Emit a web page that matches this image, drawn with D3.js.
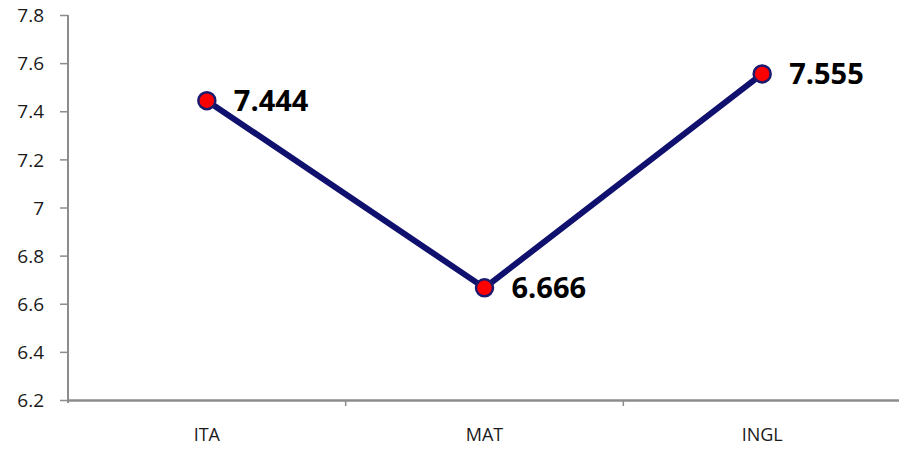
<!DOCTYPE html>
<html>
<head>
<meta charset="utf-8">
<script src="https://cdn.jsdelivr.net/npm/d3@7"></script>
<style>
  body { margin: 0; background: #fff; }
  svg { display: block; }
  .tick text { font-family: "Open Sans", "Noto Sans", sans-serif; fill: #1a1a1a; }
</style>
</head>
<body>
<script>
// data
const categories = ["ITA", "MAT", "INGL"];
const values = [7.444, 6.666, 7.555];
const yTicks = [6.2, 6.4, 6.6, 6.8, 7, 7.2, 7.4, 7.6, 7.8];

const width = 899, height = 453;
const margin = { top: 15, right: -2, bottom: 53, left: 68 };

const svg = d3.select('body').append('svg')
    .attr('width', width)
    .attr('height', height);

const x = d3.scaleBand()
    .domain(categories)
    .range([margin.left, width - margin.right]);

const y = d3.scaleLinear()
    .domain([6.2, 7.8])
    .range([height - margin.bottom, margin.top]);

// y axis
const yAxis = svg.append('g')
    .attr('transform', `translate(${margin.left},0)`)
    .call(d3.axisLeft(y).tickValues(yTicks).tickSize(8).tickSizeOuter(0)
        .tickFormat(d => String(d)));
yAxis.select('.domain').attr('stroke', '#8c8c8c').attr('stroke-width', 2)
    .attr('d', `M0,${y(7.8)}V${y(6.2) + 3}`);
yAxis.selectAll('.tick line').attr('stroke', '#8c8c8c').attr('stroke-width', 1.5);
yAxis.selectAll('.tick text').attr('font-size', 19).attr('x', -24).attr('dy', '0.35em');

// x axis
const xAxis = svg.append('g')
    .attr('transform', `translate(0,${y(6.2)})`)
    .call(d3.axisBottom(x).tickSize(0).tickSizeOuter(0));
xAxis.select('.domain').attr('stroke', '#8c8c8c').attr('stroke-width', 2.5);
xAxis.selectAll('.tick text').attr('font-size', 18).attr('y', 28);
xAxis.selectAll('.sep')
    .data(categories)
    .enter().append('line')
    .attr('class', 'sep')
    .attr('x1', d => x(d) + x.bandwidth())
    .attr('x2', d => x(d) + x.bandwidth())
    .attr('y1', 0).attr('y2', 6)
    .attr('stroke', '#8c8c8c').attr('stroke-width', 1.5);

const pts = categories.map((c, i) => ({ c, v: values[i] }));
const cx = d => x(d.c) + x.bandwidth() / 2;

svg.append('path')
    .datum(pts)
    .attr('fill', 'none')
    .attr('stroke', '#10106e')
    .attr('stroke-width', 6)
    .attr('stroke-linejoin', 'round')
    .attr('d', d3.line().x(cx).y(d => y(d.v)));

svg.selectAll('circle.pt')
    .data(pts)
    .enter().append('circle')
    .attr('class', 'pt')
    .attr('cx', cx)
    .attr('cy', d => y(d.v))
    .attr('r', 8.5)
    .attr('fill', '#ff0000')
    .attr('stroke', '#1a1a6e')
    .attr('stroke-width', 2.5);

svg.selectAll('text.lbl')
    .data(pts)
    .enter().append('text')
    .attr('class', 'lbl')
    .attr('x', d => cx(d) + 27)
    .attr('y', d => y(d.v))
    .attr('dy', '0.36em')
    .attr('font-family', '"Open Sans", "Noto Sans", sans-serif')
    .attr('font-weight', 'bold')
    .attr('font-size', 29)
    .attr('fill', '#000')
    .text(d => d3.format('.3f')(d.v));
</script>
</body>
</html>
